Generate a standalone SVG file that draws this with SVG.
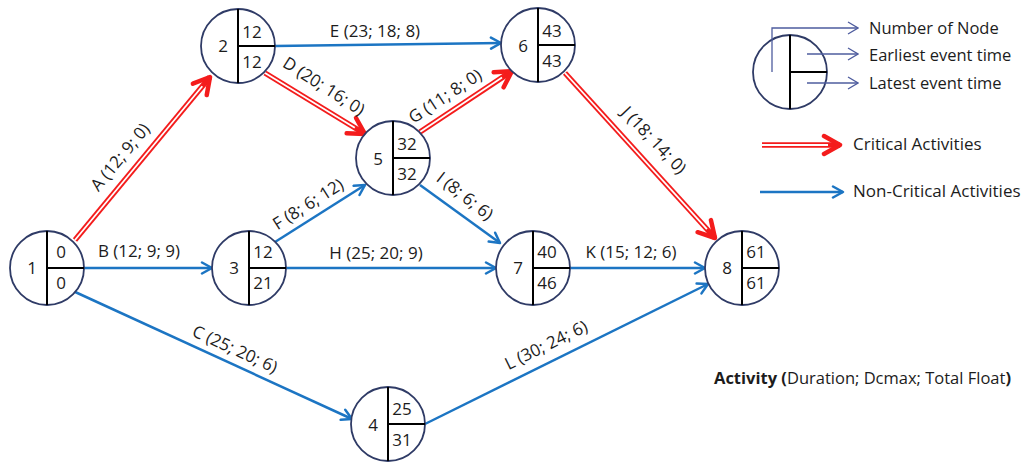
<svg xmlns="http://www.w3.org/2000/svg" width="1026" height="463" viewBox="0 0 1026 463">
<style>
text{font-family:"Open Sans","Liberation Sans",sans-serif;fill:#1c1c1c;font-size:17px}
.nc{fill:#fff;stroke:#2f3b66;stroke-width:1.8}
.dv{stroke:#000;stroke-width:2}
.m{text-anchor:middle}
.blue{stroke:#1c75c3;stroke-width:2.5;fill:none;marker-end:url(#ab)}
.redb{stroke:#f41c1c;stroke-width:5.5;fill:none;marker-end:url(#ar)}
.redw{stroke:#fff;stroke-width:1.8;fill:none}
.lg{stroke:#4e5c9e;stroke-width:1.3;fill:none}
</style>
<defs>
<marker id="ab" viewBox="0 0 14 14" refX="12" refY="7" markerWidth="14" markerHeight="14" markerUnits="userSpaceOnUse" orient="auto">
<path d="M2,1.5 L12,7 L2,12.5" fill="none" stroke="#1c75c3" stroke-width="2.5" stroke-linecap="round" stroke-linejoin="round"/>
</marker>
<marker id="ar" viewBox="0 0 24 24" refX="20" refY="12" markerWidth="24" markerHeight="24" markerUnits="userSpaceOnUse" orient="auto">
<path d="M4,3 L20,12 L4,21" fill="none" stroke="#f41c1c" stroke-width="4.5" stroke-linecap="round" stroke-linejoin="round"/>
</marker>
<marker id="lgm" viewBox="0 0 12 14" refX="11" refY="7" markerWidth="12" markerHeight="14" markerUnits="userSpaceOnUse" orient="auto">
<path d="M1,1 L11,7 L1,13" fill="none" stroke="#4e5c9e" stroke-width="1.3"/>
</marker>
</defs>
<rect width="1026" height="463" fill="#fff"/>
<g id="connectors">
<line class="redb" x1="75" y1="240" x2="210" y2="77"/>
<line class="redw" x1="75" y1="240" x2="202.3" y2="86.2"/>
<line class="redb" x1="265" y1="73" x2="365" y2="134"/>
<line class="redw" x1="265" y1="73" x2="354.8" y2="127.7"/>
<line class="redb" x1="420" y1="132" x2="512" y2="71"/>
<line class="redw" x1="420" y1="132" x2="502" y2="77.6"/>
<line class="redb" x1="565" y1="73" x2="715" y2="238"/>
<line class="redw" x1="565" y1="73" x2="706.9" y2="229.1"/>
<line class="blue" x1="84" y1="268" x2="212" y2="268"/>
<line class="blue" x1="73" y1="291" x2="352" y2="419"/>
<line class="blue" x1="275" y1="46" x2="501" y2="43"/>
<line class="blue" x1="275" y1="242" x2="365" y2="185"/>
<line class="blue" x1="286" y1="268" x2="496" y2="268"/>
<line class="blue" x1="420" y1="185" x2="500" y2="243"/>
<line class="blue" x1="570" y1="268" x2="705" y2="268"/>
<line class="blue" x1="425" y1="424" x2="708" y2="284"/>
<g id="edge-labels">
<text class="m" transform="translate(120,157) rotate(-50.4)" y="6">A (12; 9; 0)</text>
<text class="m" x="139" y="257">B (12; 9; 9)</text>
<text class="m" transform="translate(235,349) rotate(24.6)" y="6">C (25; 20; 6)</text>
<text class="m" transform="translate(324,86) rotate(32.5)" y="6">D (20; 16; 0)</text>
<text class="m" x="375" y="37">E (23; 18; 8)</text>
<text class="m" transform="translate(308,204) rotate(-32.3)" y="6">F (8; 6; 12)</text>
<text class="m" transform="translate(445,96) rotate(-33.5)" y="6">G (11; 8; 0)</text>
<text class="m" x="376" y="259">H (25; 20; 9)</text>
<text class="m" transform="translate(465,196) rotate(38)" y="6">I (8; 6; 6)</text>
<text class="m" transform="translate(654,140) rotate(46.5)" y="6">J (18; 14; 0)</text>
<text class="m" x="631" y="258">K (15; 12; 6)</text>
<text class="m" transform="translate(546,345) rotate(-26.2)" y="6">L (30; 24; 6)</text>
</g>
</g>
<g id="node1" transform="translate(47,268)"><circle class="nc" r="37"/><line class="dv" x1="0" y1="-37" x2="0" y2="37"/><line class="dv" x1="0" y1="0" x2="37" y2="0"/><text class="m" x="-15" y="6">1</text><text class="m" x="14" y="-10">0</text><text class="m" x="14" y="21">0</text></g>
<g id="node2" transform="translate(238,46)"><circle class="nc" r="37"/><line class="dv" x1="0" y1="-37" x2="0" y2="37"/><line class="dv" x1="0" y1="0" x2="37" y2="0"/><text class="m" x="-15" y="6">2</text><text class="m" x="14" y="-8">12</text><text class="m" x="14" y="22">12</text></g>
<g id="node3" transform="translate(249,268)"><circle class="nc" r="37"/><line class="dv" x1="0" y1="-37" x2="0" y2="37"/><line class="dv" x1="0" y1="0" x2="37" y2="0"/><text class="m" x="-15" y="6">3</text><text class="m" x="14" y="-10">12</text><text class="m" x="14" y="21">21</text></g>
<g id="node4" transform="translate(388,424)"><circle class="nc" r="37"/><line class="dv" x1="0" y1="-37" x2="0" y2="37"/><line class="dv" x1="0" y1="0" x2="37" y2="0"/><text class="m" x="-15" y="7">4</text><text class="m" x="14" y="-9">25</text><text class="m" x="14" y="22">31</text></g>
<g id="node5" transform="translate(393,158)"><circle class="nc" r="37"/><line class="dv" x1="0" y1="-37" x2="0" y2="37"/><line class="dv" x1="0" y1="0" x2="37" y2="0"/><text class="m" x="-15" y="7">5</text><text class="m" x="14" y="-8">32</text><text class="m" x="14" y="22">32</text></g>
<g id="node6" transform="translate(538,45)"><circle class="nc" r="37"/><line class="dv" x1="0" y1="-37" x2="0" y2="37"/><line class="dv" x1="0" y1="0" x2="37" y2="0"/><text class="m" x="-15" y="7">6</text><text class="m" x="14" y="-8">43</text><text class="m" x="14" y="22">43</text></g>
<g id="node7" transform="translate(533,268)"><circle class="nc" r="37"/><line class="dv" x1="0" y1="-37" x2="0" y2="37"/><line class="dv" x1="0" y1="0" x2="37" y2="0"/><text class="m" x="-15" y="6">7</text><text class="m" x="14" y="-10">40</text><text class="m" x="14" y="21">46</text></g>
<g id="node8" transform="translate(742,268)"><circle class="nc" r="37"/><line class="dv" x1="0" y1="-37" x2="0" y2="37"/><line class="dv" x1="0" y1="0" x2="37" y2="0"/><text class="m" x="-15" y="6">8</text><text class="m" x="14" y="-10">61</text><text class="m" x="14" y="21">61</text></g>
<g id="legend">
<circle class="nc" cx="790" cy="72" r="37"/>
<line class="dv" x1="790" y1="35" x2="790" y2="109"/>
<line class="dv" x1="790" y1="72" x2="827" y2="72"/>
<polyline class="lg" points="772,72 772,28 858,28" marker-end="url(#lgm)"/>
<line class="lg" x1="807" y1="54" x2="858" y2="54" marker-end="url(#lgm)"/>
<line class="lg" x1="807" y1="83" x2="858" y2="83" marker-end="url(#lgm)"/>
<text x="869" y="34" style="font-size:16.5px">Number of Node</text>
<text x="869" y="61" style="font-size:16.5px">Earliest event time</text>
<text x="869" y="89" style="font-size:16.5px">Latest event time</text>
<line class="redb" x1="762" y1="145" x2="840" y2="145"/>
<line class="redw" x1="762" y1="145" x2="828" y2="145"/>
<text x="853" y="150">Critical Activities</text>
<line class="blue" x1="760" y1="192" x2="843" y2="192"/>
<text x="853" y="197">Non-Critical Activities</text>
<text x="714" y="384" style="font-size:16.5px"><tspan font-weight="bold">Activity (</tspan>Duration; Dcmax; Total Float<tspan font-weight="bold">)</tspan></text>
</g>
</svg>
